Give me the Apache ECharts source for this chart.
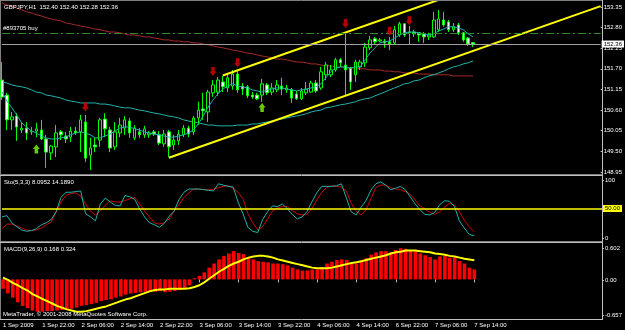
<!DOCTYPE html>
<html><head><meta charset="utf-8">
<script src="https://cdn.jsdelivr.net/npm/echarts@6/dist/echarts.min.js"></script>
<style>html,body{margin:0;padding:0;background:#000}#c{width:625px;height:330px}</style>
</head><body><div id="c"></div>
<script>
const symbolName = 'GBPJPY,H1';
const orderLabel = '#893705 buy';
const copyright = 'MetaTrader, \u00A9 2001-2008 MetaQuotes Software Corp.';
const xTickLabels = ['1 Sep 2009','1 Sep 22:00','2 Sep 06:00','2 Sep 14:00','2 Sep 22:00','3 Sep 06:00','3 Sep 14:00','3 Sep 22:00','4 Sep 06:00','4 Sep 14:00','6 Sep 22:00','7 Sep 06:00','7 Sep 14:00'];
const totalSlots = 123;
const priceTicks = [148.95,149.50,150.05,150.60,151.15,151.70,152.25,152.80,153.35];
const stochTicks = [0,100];
const macdTickValues = [0.602,0,-0.657];
const macdTickLabels = ['0.602','0.00','-0.657'];
const bidPrice = 152.36;
const orderPrice = 152.66;
const stochLevel = 50;

const open = [
151.40,151.00,150.34,150.44,150.07,150.12,150.02,150.04,150.07,149.83,
149.46,149.62,150.02,149.91,149.88,150.04,150.02,150.28,149.40,149.67,
149.80,150.36,150.07,149.62,149.99,150.12,150.31,149.86,150.02,149.94,
149.94,150.02,149.94,149.70,150.02,149.67,149.78,149.94,150.12,150.02,
150.39,150.63,150.55,151.06,151.08,151.35,151.19,151.24,151.56,151.24,
151.22,151.00,151.00,151.00,151.27,151.08,151.14,151.24,151.14,151.14,
151.03,150.90,151.06,151.08,151.32,151.19,151.54,151.54,151.67,151.94,
151.80,151.72,151.54,151.75,151.86,152.26,152.50,152.44,152.44,152.42,
152.39,152.60,152.90,152.66,152.68,152.66,152.63,152.55,152.55,152.74,
153.00,152.95,152.74,152.87,152.66,152.52,152.40];
const close = [
150.95,150.34,150.42,150.15,150.12,149.99,150.04,150.10,149.83,149.48,
149.64,149.99,149.94,149.83,150.04,149.99,150.34,149.32,149.59,149.62,
150.34,150.10,149.59,150.02,150.20,150.34,149.99,150.12,149.94,150.10,
149.99,149.96,149.72,149.96,149.62,149.80,149.96,150.12,149.96,150.39,
150.60,150.58,151.08,151.27,151.40,151.22,151.46,151.56,151.14,151.16,
150.98,150.95,150.90,151.30,151.06,151.19,151.27,151.16,151.19,150.92,
150.90,151.11,151.16,151.32,151.11,151.62,151.80,151.67,151.94,151.86,
151.67,151.35,151.88,151.88,152.28,152.47,152.42,152.47,152.39,152.36,
152.74,152.90,152.60,152.68,152.63,152.60,152.55,152.60,153.00,153.03,
152.87,152.74,152.82,152.66,152.47,152.36,152.36];
const low = [
150.87,150.07,150.07,149.78,149.99,149.80,149.94,149.88,149.80,149.06,
149.27,149.35,149.80,149.72,149.75,149.94,149.48,149.22,149.00,149.48,
149.62,149.88,149.48,149.54,149.88,149.94,149.86,149.80,149.86,149.86,
149.86,149.91,149.67,149.62,149.35,149.54,149.67,149.88,149.88,149.94,
150.20,150.34,150.28,150.95,150.98,151.08,151.08,151.14,151.06,151.00,
150.92,150.90,150.87,150.82,151.00,151.00,151.08,151.00,151.06,150.79,
150.87,150.87,151.00,151.06,151.06,151.14,151.40,151.48,151.62,151.75,
151.00,151.14,151.35,151.67,151.75,152.20,152.36,152.42,152.26,152.20,
152.34,152.55,152.55,152.34,152.55,152.42,152.39,152.47,152.52,152.68,
152.82,152.68,152.68,152.60,152.42,152.31,152.28];
const high = [
151.88,151.06,150.55,150.52,150.28,150.28,150.15,150.26,150.34,149.94,
149.67,150.20,150.07,150.02,150.15,150.15,150.47,150.47,149.86,149.86,
150.39,150.52,150.15,150.28,150.39,150.44,150.39,150.20,150.12,150.18,
150.04,150.07,150.04,150.07,150.07,149.94,150.07,150.20,150.18,150.44,
150.82,151.06,151.14,151.40,151.48,151.51,151.56,151.67,151.67,151.32,
151.27,151.08,151.06,151.43,151.32,151.32,151.40,151.46,151.27,151.19,
151.11,151.19,151.35,151.38,151.40,151.75,151.88,151.80,151.99,151.99,
152.66,151.75,151.94,151.94,152.39,152.58,152.55,152.52,152.50,152.55,
152.84,152.95,152.92,152.84,152.74,152.68,152.68,152.66,153.22,153.27,
153.22,153.00,152.92,152.92,152.68,152.55,152.40];

const fastMA = [
151.08,150.84,150.66,150.47,150.26,150.15,150.04,149.99,149.91,149.86,
149.83,149.83,149.86,149.88,149.94,149.99,150.02,149.99,149.94,149.86,
149.86,149.91,149.96,150.04,150.12,150.15,150.15,150.10,150.07,150.02,
149.99,149.96,149.94,149.91,149.88,149.88,149.91,149.94,149.99,150.07,
150.23,150.44,150.68,150.87,151.03,151.16,151.24,151.30,151.24,151.22,
151.19,151.14,151.11,151.08,151.14,151.16,151.19,151.19,151.16,151.14,
151.11,151.14,151.16,151.19,151.22,151.30,151.46,151.62,151.72,151.75,
151.75,151.72,151.75,151.75,151.94,152.12,152.26,152.39,152.42,152.44,
152.52,152.60,152.66,152.68,152.68,152.66,152.63,152.60,152.63,152.71,
152.76,152.82,152.82,152.79,152.74,152.63,152.55];
const slowMA = [
151.35,151.32,151.27,151.24,151.22,151.19,151.14,151.08,151.06,151.00,
150.98,150.95,150.92,150.87,150.84,150.82,150.79,150.79,150.79,150.79,
150.76,150.76,150.74,150.71,150.68,150.66,150.66,150.63,150.60,150.58,
150.55,150.52,150.50,150.47,150.44,150.42,150.39,150.34,150.31,150.28,
150.26,150.23,150.20,150.20,150.18,150.18,150.18,150.18,150.20,150.20,
150.20,150.23,150.23,150.26,150.28,150.31,150.34,150.36,150.39,150.42,
150.44,150.47,150.50,150.55,150.58,150.60,150.66,150.68,150.71,150.74,
150.76,150.79,150.82,150.87,150.90,150.92,150.98,151.03,151.08,151.14,
151.19,151.24,151.30,151.32,151.38,151.40,151.46,151.51,151.54,151.59,
151.64,151.70,151.75,151.78,151.83,151.86,151.91];
const longMA = [
153.46,153.40,153.38,153.32,153.27,153.22,153.19,153.14,153.11,153.06,
153.03,153.00,152.98,152.92,152.90,152.87,152.84,152.82,152.79,152.76,
152.74,152.71,152.68,152.68,152.66,152.63,152.60,152.60,152.58,152.55,
152.55,152.52,152.50,152.47,152.47,152.44,152.44,152.42,152.42,152.39,
152.39,152.36,152.34,152.31,152.28,152.26,152.23,152.20,152.18,152.15,
152.12,152.10,152.07,152.04,152.02,151.99,151.96,151.96,151.94,151.91,
151.88,151.88,151.86,151.83,151.83,151.80,151.78,151.78,151.75,151.75,
151.72,151.72,151.72,151.70,151.70,151.67,151.67,151.67,151.64,151.64,
151.62,151.62,151.59,151.59,151.59,151.56,151.56,151.56,151.54,151.54,
151.54,151.54,151.51,151.51,151.51,151.51,151.51];

const lowerTrend = [[34,149.33],[122,153.37]];
const upperTrend = [[45,151.52],[122,155.05]];
const upFractals = [[17,150.68],[43,151.63],[48,151.86],[70,152.91],[79,152.70],[83,152.98]];
const downFractals = [[7,149.56],[53,150.67]];

const stochMain = [
37,39,28,22,17,15,16,19,25,28,
33,45,67,75,75,76,77,42,37,31,
57,66,60,55,54,70,68,64,49,37,
28,25,21,27,38,46,64,75,80,80,
80,79,78,77,88,86,84,83,60,42,
21,15,13,33,45,54,53,57,50,41,
34,37,45,60,74,84,84,84,85,88,
67,45,40,52,62,78,88,91,86,79,
81,84,79,68,57,48,41,40,44,56,
62,61,53,31,20,10,8.0952];
const stochSignal = [
19,26,26,23,20,17,16,17,20,25,
29,44,60,70,73,74,69,57,46,40,
46,55,62,60,60,62,65,67,57,46,
37,28,26,28,34,46,56,67,74,80,
80,79,79,80,82,84,85,81,75,65,
42,28,17,22,34,46,51,53,53,47,
42,40,41,50,63,75,82,85,84,83,
77,58,46,40,48,65,82,86,86,82,
80,79,76,72,63,54,49,44,41,45,
52,58,55,45,32,22,14.189];

const macdHist = [
-0.16,-0.24,-0.31,-0.39,-0.45,-0.49,-0.53,-0.55,-0.55,-0.54,
-0.54,-0.53,-0.52,-0.52,-0.50,-0.48,-0.45,-0.44,-0.42,-0.40,
-0.37,-0.35,-0.34,-0.31,-0.29,-0.26,-0.24,-0.23,-0.22,-0.21,
-0.21,-0.21,-0.20,-0.22,-0.21,-0.20,-0.18,-0.16,-0.10,0.02,
0.06,0.12,0.20,0.27,0.34,0.40,0.44,0.48,0.45,0.43,
0.37,0.34,0.31,0.30,0.29,0.27,0.27,0.26,0.24,0.20,
0.17,0.15,0.15,0.17,0.17,0.21,0.27,0.30,0.33,0.34,
0.33,0.26,0.27,0.30,0.36,0.42,0.46,0.48,0.48,0.46,
0.50,0.53,0.52,0.50,0.48,0.44,0.41,0.38,0.34,0.39,
0.40,0.37,0.37,0.31,0.27,0.20,0.168];
const macdSignal = [
0.03,-0.01,-0.06,-0.10,-0.15,-0.19,-0.25,-0.29,-0.33,-0.37,
-0.41,-0.45,-0.48,-0.51,-0.53,-0.55,-0.55,-0.54,-0.52,-0.50,
-0.48,-0.46,-0.43,-0.40,-0.37,-0.34,-0.32,-0.29,-0.26,-0.23,
-0.20,-0.18,-0.17,-0.17,-0.16,-0.16,-0.16,-0.16,-0.15,-0.13,
-0.10,-0.05,0.01,0.07,0.13,0.18,0.23,0.27,0.30,0.34,
0.37,0.39,0.40,0.40,0.39,0.37,0.34,0.32,0.30,0.28,
0.26,0.24,0.22,0.20,0.19,0.19,0.19,0.20,0.22,0.24,
0.26,0.28,0.29,0.31,0.33,0.35,0.37,0.39,0.41,0.44,
0.46,0.47,0.49,0.49,0.49,0.48,0.47,0.46,0.44,0.43,
0.42,0.40,0.39,0.37,0.35,0.34,0.324];

// ---- build ----
const FONT = 'Liberation Sans, Arial, sans-serif';
const categories = [];
for (let i = 0; i < totalSlots; i++) {
  categories.push(i % 8 === 0 && i / 8 < xTickLabels.length ? xTickLabels[i / 8] : '');
}
const candleData = open.map((o, i) => [o, close[i], low[i], high[i]]);
const last = open.length - 1;
const header = symbolName + '  ' + [open[last], high[last], low[last], close[last]].map(v => v.toFixed(2)).join(' ');
const stochTitle = 'Sto(5,3,3) ' + stochMain[last].toFixed(4) + ' ' + stochSignal[last].toFixed(4);
const macdTitle = 'MACD(9,26,9) ' + macdHist[last].toFixed(3) + ' ' + macdSignal[last].toFixed(3);
const downArrow = 'path://M2,0 L6,0 L6,4 L8,4 L4,8 L0,4 L2,4 Z';
const upArrow = 'path://M4,0 L8,4 L6,4 L6,8 L2,8 L2,4 L0,4 Z';

const txt = (size) => ({ color: '#ffffff', fontSize: size, fontFamily: FONT, fontWeight: 'normal' });
const hiddenX = (g) => ({ type: 'category', gridIndex: g, data: categories, boundaryGap: false,
  axisLine: { show: false }, axisTick: { show: false }, axisLabel: { show: false }, splitLine: { show: false } });

const chart = echarts.init(document.getElementById('c'), null, { renderer: 'canvas' });
chart.setOption({
  backgroundColor: '#000000',
  animation: false,
  title: [
    { text: header, left: 4, top: 4, padding: 0, textStyle: txt(6) },
    { text: stochTitle, left: 4, top: 179, padding: 0, textStyle: txt(6) },
    { text: macdTitle, left: 4, top: 246, padding: 0, textStyle: txt(6) },
    { text: copyright, left: 3, top: 311, padding: 0, textStyle: txt(6) }
  ],
  graphic: [
    { type: 'line', shape: { x1: 0, y1: 0.5, x2: 603, y2: 0.5 }, style: { stroke: '#808080', lineWidth: 1 } },
    { type: 'line', shape: { x1: 0.5, y1: 0, x2: 0.5, y2: 320 }, style: { stroke: '#808080', lineWidth: 1 } },
    { type: 'line', shape: { x1: 0, y1: 174.5, x2: 603, y2: 174.5 }, style: { stroke: '#808080', lineWidth: 1 } },
    { type: 'line', shape: { x1: 0, y1: 175.5, x2: 603, y2: 175.5 }, style: { stroke: '#c0c0c0', lineWidth: 1 } },
    { type: 'line', shape: { x1: 0, y1: 241.5, x2: 603, y2: 241.5 }, style: { stroke: '#808080', lineWidth: 1 } },
    { type: 'line', shape: { x1: 0, y1: 242.5, x2: 603, y2: 242.5 }, style: { stroke: '#c0c0c0', lineWidth: 1 } },
    { type: 'line', shape: { x1: 0, y1: 319.5, x2: 603, y2: 319.5 }, style: { stroke: '#c0c0c0', lineWidth: 1 } },
    { type: 'line', shape: { x1: 602.5, y1: 0, x2: 602.5, y2: 320 }, style: { stroke: '#c0c0c0', lineWidth: 1 } }
  ],
  grid: [
    { left: 2, right: 23, top: 2, height: 170 },
    { left: 2, right: 23, top: 176, height: 65 },
    { left: 2, right: 23, top: 244, height: 74 }
  ],
  xAxis: [
    hiddenX(0),
    hiddenX(1),
    { type: 'category', gridIndex: 2, data: categories, boundaryGap: false,
      axisLine: { show: false },
      axisTick: { show: true, length: 3, interval: (i, v) => v !== '', lineStyle: { color: '#c0c0c0' } },
      axisLabel: { show: true, interval: (i, v) => v !== '', align: 'left', margin: 4, color: '#ffffff', fontSize: 6, fontFamily: FONT },
      splitLine: { show: false } }
  ],
  yAxis: [
    { type: 'value', gridIndex: 0, position: 'right', min: 148.95, max: 153.48,
      axisLine: { show: false }, splitLine: { show: false },
      axisTick: { show: true, length: 2, customValues: priceTicks, lineStyle: { color: '#c0c0c0' } },
      axisLabel: { customValues: priceTicks, formatter: v => v.toFixed(2), color: '#ffffff', fontSize: 6, fontFamily: FONT, margin: 3 } },
    { type: 'value', gridIndex: 1, min: 0, max: 100, show: false },
    { type: 'value', gridIndex: 1, position: 'right', min: -5.2, max: 108.2,
      axisLine: { show: false }, splitLine: { show: false },
      axisTick: { show: true, length: 2, customValues: stochTicks, lineStyle: { color: '#c0c0c0' } },
      axisLabel: { customValues: stochTicks, formatter: v => String(v), color: '#ffffff', fontSize: 6, fontFamily: FONT, margin: 3 } },
    { type: 'value', gridIndex: 2, min: -0.657, max: 0.602, show: false },
    { type: 'value', gridIndex: 2, position: 'right', min: -0.713, max: 0.677,
      axisLine: { show: false }, splitLine: { show: false },
      axisTick: { show: true, length: 2, customValues: macdTickValues, lineStyle: { color: '#c0c0c0' } },
      axisLabel: { customValues: macdTickValues,
        formatter: v => { const k = macdTickValues.findIndex(t => Math.abs(t - v) < 1e-6); return k >= 0 ? macdTickLabels[k] : ''; },
        color: '#ffffff', fontSize: 6, fontFamily: FONT, margin: 3 } }
  ],
  series: [
    { type: 'line', xAxisIndex: 0, yAxisIndex: 0, data: longMA, symbol: 'none', silent: true, z: 1,
      lineStyle: { color: '#a52a2a', width: 1 } },
    { type: 'line', xAxisIndex: 0, yAxisIndex: 0, data: slowMA, symbol: 'none', silent: true, z: 1,
      lineStyle: { color: '#20b2aa', width: 1 } },
    { type: 'candlestick', xAxisIndex: 0, yAxisIndex: 0, data: candleData, barWidth: 3, clip: false, z: 2,
      itemStyle: { color: '#000000', color0: '#ffffff', borderColor: '#00ff00', borderColor0: '#00ff00', borderWidth: 1 },
      markLine: { symbol: 'none', silent: true, animation: false, data: [
        { yAxis: bidPrice, lineStyle: { color: '#a0a0a0', type: 'solid', width: 1 },
          label: { show: true, position: 'end', formatter: bidPrice.toFixed(2), backgroundColor: '#ffffff', color: '#000000', fontSize: 6, fontFamily: FONT, padding: [1, 2, 0, 2], distance: 1 } },
        { yAxis: orderPrice, lineStyle: { color: '#2e8b2e', type: [8, 3, 2, 3], width: 1 },
          label: { show: true, position: 'insideStartTop', formatter: orderLabel, color: '#ffffff', fontSize: 6, fontFamily: FONT, distance: 1 } }
      ] } },
    { type: 'line', xAxisIndex: 0, yAxisIndex: 0, data: fastMA, symbol: 'none', silent: true, z: 3,
      lineStyle: { color: '#20b2aa', width: 1 } },
    { type: 'line', xAxisIndex: 0, yAxisIndex: 0, data: lowerTrend, symbol: 'none', silent: true, z: 4,
      lineStyle: { color: '#ffff00', width: 2 } },
    { type: 'line', xAxisIndex: 0, yAxisIndex: 0, data: upperTrend, symbol: 'none', silent: true, z: 4,
      lineStyle: { color: '#ffff00', width: 2 } },
    { type: 'scatter', xAxisIndex: 0, yAxisIndex: 0, data: upFractals, symbol: downArrow, symbolSize: [7, 9], z: 5,
      itemStyle: { color: '#e00000' } },
    { type: 'scatter', xAxisIndex: 0, yAxisIndex: 0, data: downFractals, symbol: upArrow, symbolSize: [7, 9], z: 5,
      itemStyle: { color: '#7fff00' } },
    { type: 'line', xAxisIndex: 1, yAxisIndex: 1, data: stochSignal, symbol: 'none', silent: true,
      lineStyle: { color: '#d00000', width: 1 } },
    { type: 'line', xAxisIndex: 1, yAxisIndex: 1, data: stochMain, symbol: 'none', silent: true,
      lineStyle: { color: '#20b2aa', width: 1 },
      markLine: { symbol: 'none', silent: true, animation: false, data: [
        { yAxis: stochLevel, lineStyle: { color: '#ffff00', type: 'solid', width: 1.5 },
          label: { show: true, position: 'end', formatter: stochLevel.toFixed(2), backgroundColor: '#ffff00', color: '#000000', fontSize: 6, fontFamily: FONT, padding: [1, 2, 0, 2], distance: 1 } }
      ] } },
    { type: 'bar', xAxisIndex: 2, yAxisIndex: 3, data: macdHist, barWidth: 3.6, silent: true,
      itemStyle: { color: '#ff0000' } },
    { type: 'line', xAxisIndex: 2, yAxisIndex: 3, data: macdSignal, symbol: 'none', silent: true, z: 5,
      lineStyle: { color: '#ffff00', width: 2 } }
  ]
});
</script>
</body></html>
